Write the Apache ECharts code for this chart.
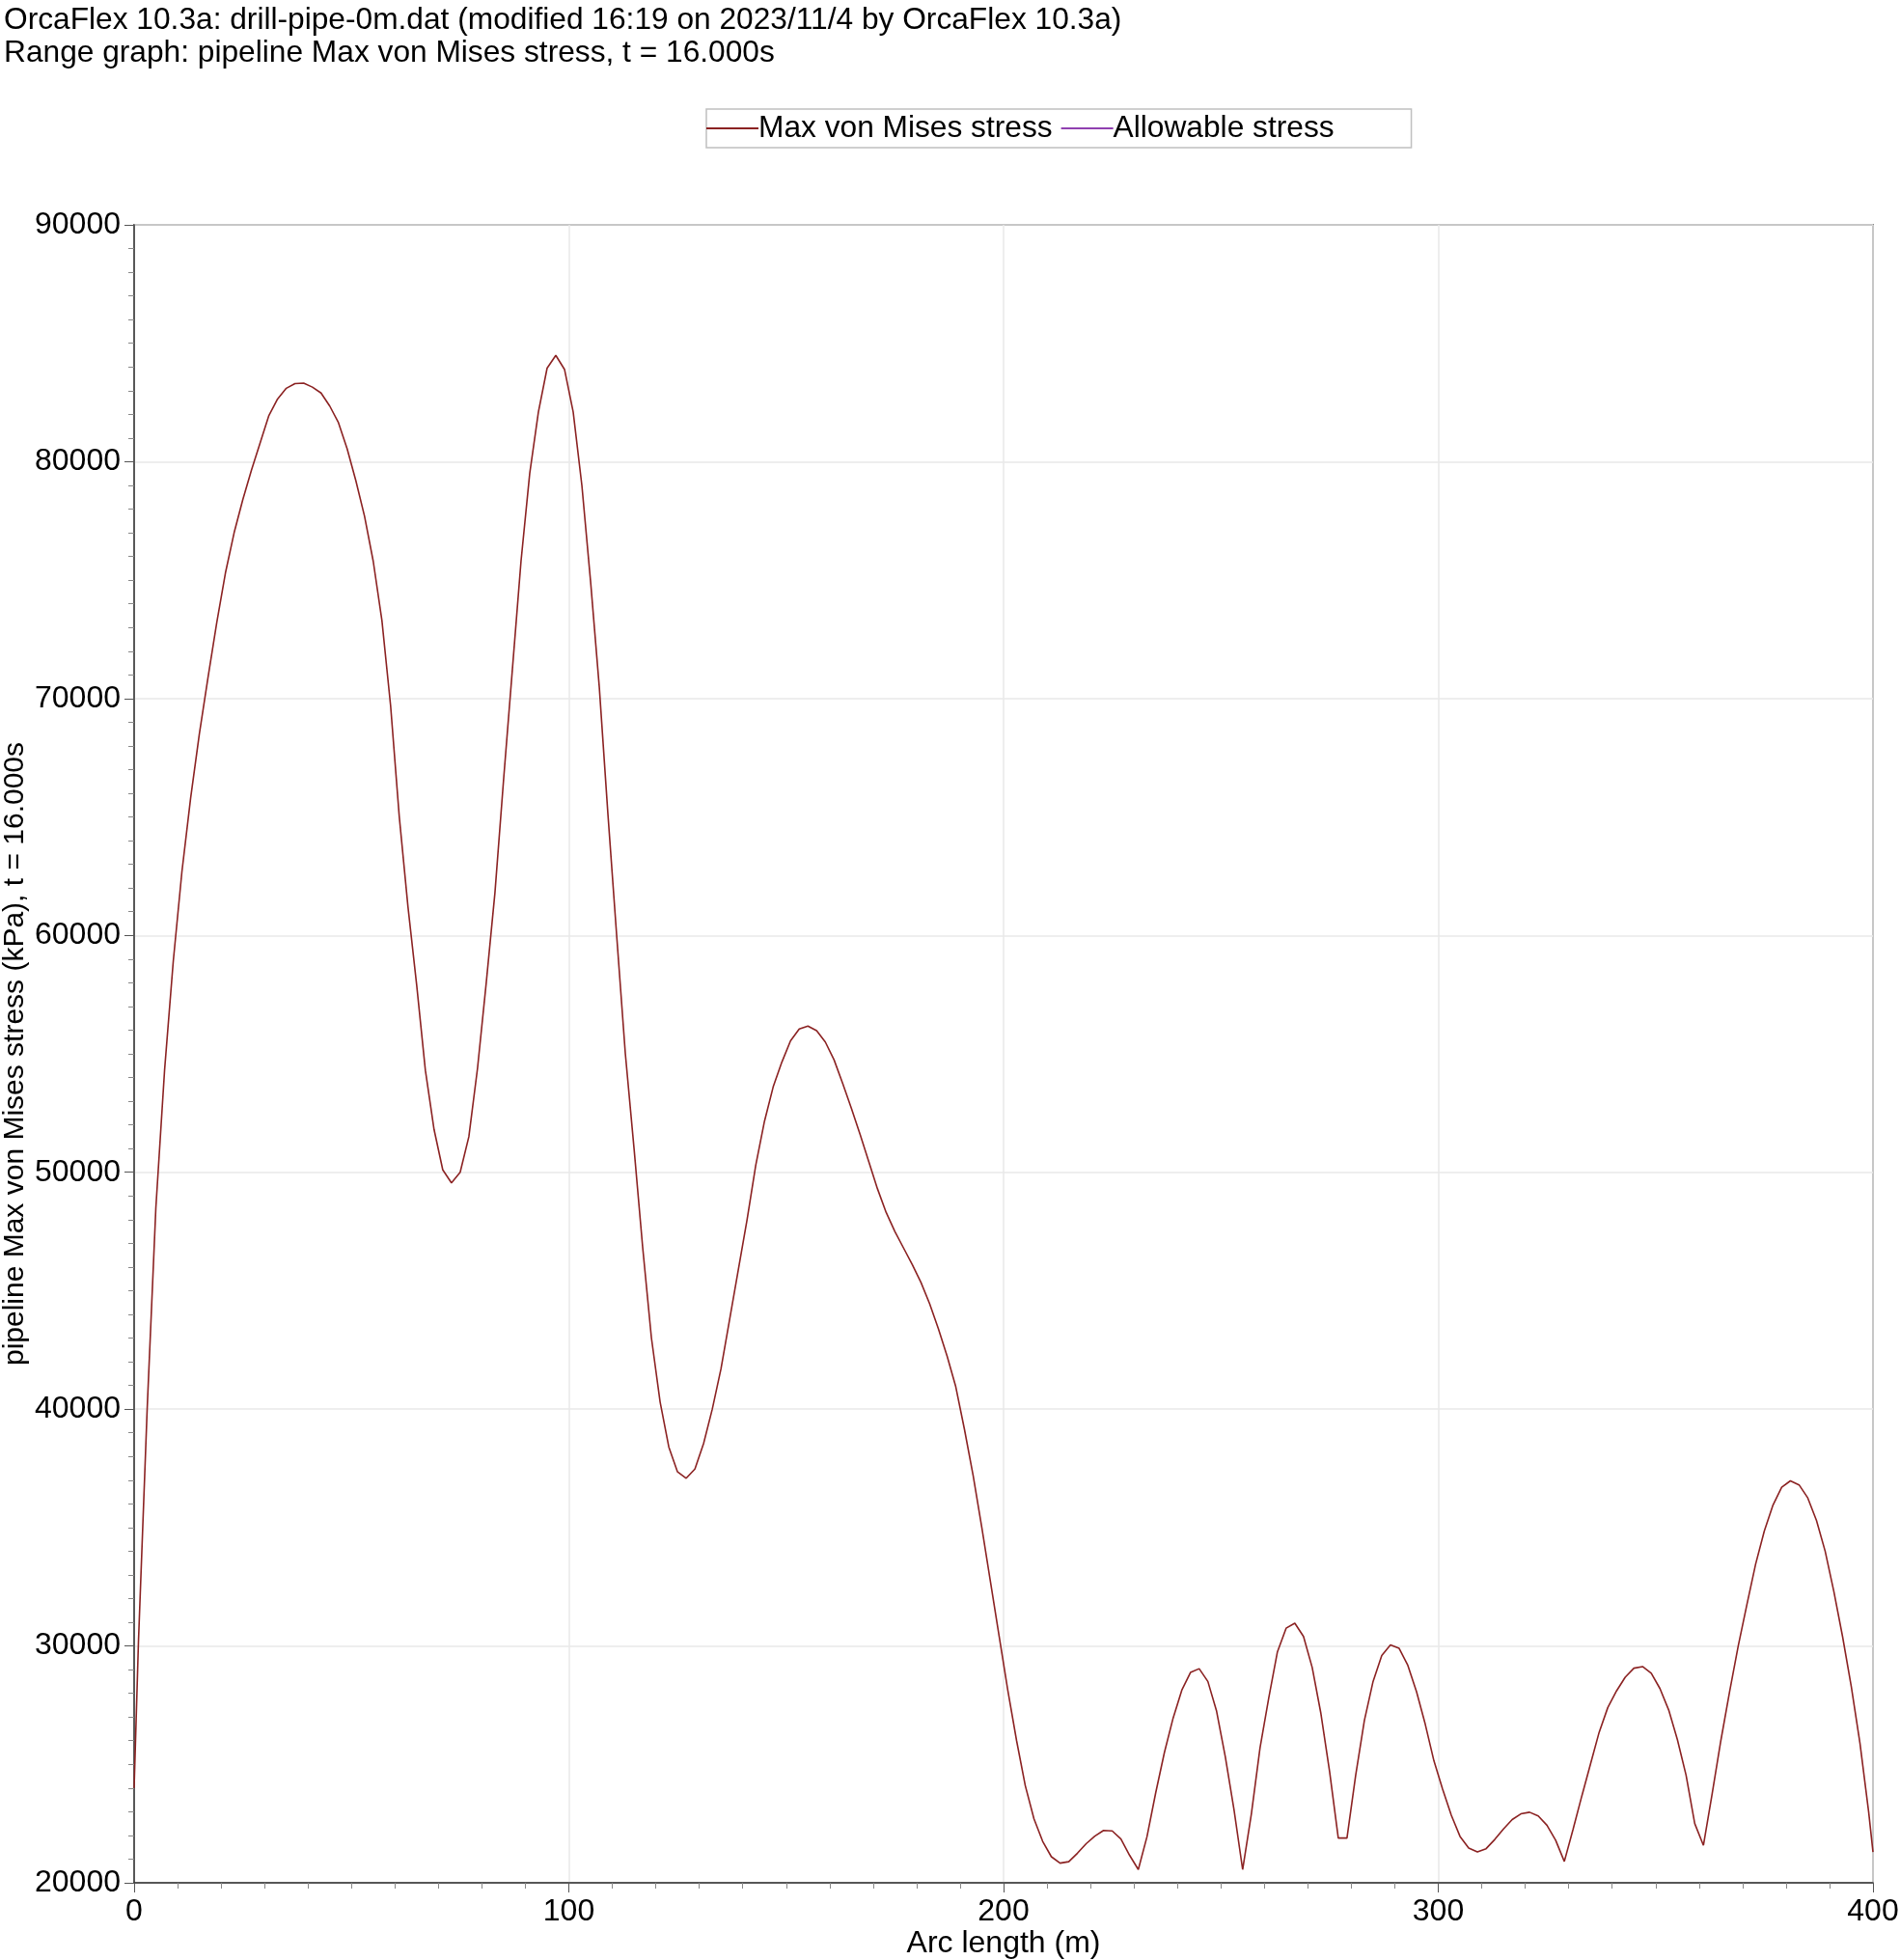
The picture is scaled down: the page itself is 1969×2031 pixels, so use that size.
<!DOCTYPE html>
<html>
<head>
<meta charset="utf-8">
<title>Range graph</title>
<script src="https://cdn.jsdelivr.net/npm/echarts@6/dist/echarts.min.js"></script>
<style>
  html, body { margin: 0; padding: 0; background: #fff; }
  #chart { width: 1969px; height: 2031px; }
</style>
</head>
<body>
<div id="chart"></div>
<script>
// arc length along the pipe (m)
const arcLength = [
  0, 1, 3, 5, 7, 9, 11, 13, 15, 17, 19, 21, 23, 25, 27, 29, 31, 33, 35, 37, 39,
  41, 43, 45, 47, 49, 51, 53, 55, 57, 59, 61, 63, 65, 67, 69, 71, 73, 75, 77, 79,
  81, 83, 85, 87, 89, 91, 93, 95, 97, 99, 101, 103, 105, 107, 109, 111, 113, 115, 117, 119,
  121, 123, 125, 127, 129, 131, 133, 135, 137, 139, 141, 143, 145, 147, 149, 151, 153, 155, 157, 159,
  161, 163, 165, 167, 169, 171, 173, 175, 177, 179, 181, 183, 185, 187, 189, 191, 193, 195, 197, 199,
  201, 203, 205, 207, 209, 211, 213, 215, 217, 219, 221, 223, 225, 227, 229, 231, 233, 235, 237, 239,
  241, 243, 245, 247, 249, 251, 253, 255, 257, 259, 261, 263, 265, 267, 269, 271, 273, 275, 277, 279,
  281, 283, 285, 287, 289, 291, 293, 295, 297, 299, 301, 303, 305, 307, 309, 311, 313, 315, 317, 319,
  321, 323, 325, 327, 329, 331, 333, 335, 337, 339, 341, 343, 345, 347, 349, 351, 353, 355, 357, 359,
  361, 363, 365, 367, 369, 371, 373, 375, 377, 379, 381, 383, 385, 387, 389, 391, 393, 395, 397, 399, 400
];

// max von Mises stress (kPa) at t = 16.000s
const maxVonMises = [
  24000, 30200, 40000, 48500, 54300, 58900, 62700, 65800, 68500, 70900, 73200, 75300, 77000, 78400, 79650, 80800, 81950, 82650, 83100, 83300, 83320,
  83150, 82900, 82350, 81650, 80550, 79200, 77700, 75800, 73300, 69700, 65000, 61200, 57900, 54300, 51800, 50100, 49550, 50000, 51500, 54400,
  58000, 61800, 66600, 71200, 75800, 79500, 82100, 83950, 84490, 83900, 82100, 79000, 74950, 70500, 65100, 60000, 55000, 51000, 46800, 43000,
  40300, 38400, 37350, 37080, 37470, 38550, 40000, 41700, 43800, 45900, 48000, 50300, 52150, 53600, 54650, 55550, 56050, 56170, 55980, 55500,
  54750, 53750, 52700, 51600, 50450, 49300, 48300, 47500, 46800, 46100, 45350, 44450, 43400, 42250, 40950, 39150, 37200, 35000, 32700, 30400,
  28100, 26000, 24100, 22700, 21750, 21100, 20830, 20890, 21250, 21650, 21970, 22210, 22190, 21850, 21160, 20560, 21950, 23800, 25500, 26950,
  28130, 28880, 29040, 28500, 27250, 25330, 23100, 20560, 22900, 25700, 27800, 29750, 30750, 30960, 30400, 29090, 27150, 24700, 21890, 21890,
  24540, 26850, 28500, 29600, 30040, 29900, 29180, 28070, 26700, 25150, 23950, 22850, 21960, 21470, 21300, 21440, 21830, 22270, 22670, 22910,
  22980, 22820, 22430, 21800, 20900, 22250, 23650, 25000, 26350, 27400, 28100, 28680, 29060, 29130, 28850, 28200, 27300, 26050, 24550, 22500,
  21580, 23750, 26000, 28050, 30000, 31750, 33450, 34850, 35950, 36700, 36970, 36800, 36250, 35300, 34000, 32300, 30400, 28300, 25900, 23000, 21300
];

const seriesNames = ['Max von Mises stress', 'Allowable stress'];
const titleLines = [
  'OrcaFlex 10.3a: drill-pipe-0m.dat (modified 16:19 on 2023/11/4 by OrcaFlex 10.3a)',
  'Range graph: pipeline Max von Mises stress, t = 16.000s'
];

const font = "'Liberation Sans', Arial, sans-serif";
const chart = echarts.init(document.getElementById('chart'));

let stressData = [];
for (let i = 0; i < arcLength.length; i++) {
  stressData.push([arcLength[i], maxVonMises[i]]);
}

const axisCommon = {
  type: 'value',
  nameMoveOverlap: false,
  axisLine: { show: true, lineStyle: { color: '#333', width: 1.5 } },
  axisTick: { show: true, length: 10, lineStyle: { color: '#555', width: 1 } },
  minorTick: { show: true, splitNumber: 10, length: 6, lineStyle: { color: '#888', width: 1 } },
  splitLine: { show: true, lineStyle: { color: '#e8e8e8', width: 1.5 } },
  axisLabel: {
    color: '#000', fontSize: 32, fontFamily: font, margin: 14,
    formatter: (v) => String(v)
  },
  nameTextStyle: { color: '#000', fontSize: 32, fontFamily: font }
};

chart.setOption({
  animation: false,
  backgroundColor: '#fff',
  textStyle: { fontFamily: font },
  title: {
    text: titleLines.join('\n'),
    left: 4,
    top: 4,
    padding: 0,
    textStyle: { fontSize: 31.7, fontWeight: 'normal', color: '#000', lineHeight: 34, fontFamily: font }
  },
  legend: {
    data: seriesNames,
    left: 732,
    top: 113,
    padding: [4, 80, 4, 0],
    itemGap: 9,
    itemWidth: 54,
    itemHeight: 2,
    icon: 'rect',
    borderColor: '#c0c0c0',
    borderWidth: 1.5,
    textStyle: { fontSize: 31.7, color: '#000', fontFamily: font, padding: [0, 0, 0, -5] }
  },
  grid: {
    left: 139,
    top: 233,
    width: 1802,
    height: 1718,
    show: true,
    borderColor: '#333',
    borderWidth: 1.5,
    containLabel: false,
    outerBoundsMode: 'none'
  },
  xAxis: Object.assign({}, axisCommon, {
    min: 0,
    max: 400,
    interval: 100,
    name: 'Arc length (m)',
    nameLocation: 'middle',
    nameGap: 47
  }),
  yAxis: Object.assign({}, axisCommon, {
    min: 20000,
    max: 90000,
    interval: 10000,
    name: 'pipeline Max von Mises stress (kPa), t = 16.000s',
    nameLocation: 'middle',
    nameGap: 108,
    nameTextStyle: { color: '#000', fontSize: 30, fontFamily: font }
  }),
  series: [
    {
      name: seriesNames[0],
      type: 'line',
      data: stressData,
      showSymbol: false,
      smooth: false,
      color: '#8b2222',
      lineStyle: { color: '#8b2222', width: 1.6 }
    },
    {
      // allowable stress lies off the plotted range, only its legend entry shows
      name: seriesNames[1],
      type: 'line',
      data: [],
      showSymbol: false,
      color: '#9040b0',
      lineStyle: { color: '#9040b0', width: 1.6 }
    }
  ]
});
</script>
</body>
</html>
